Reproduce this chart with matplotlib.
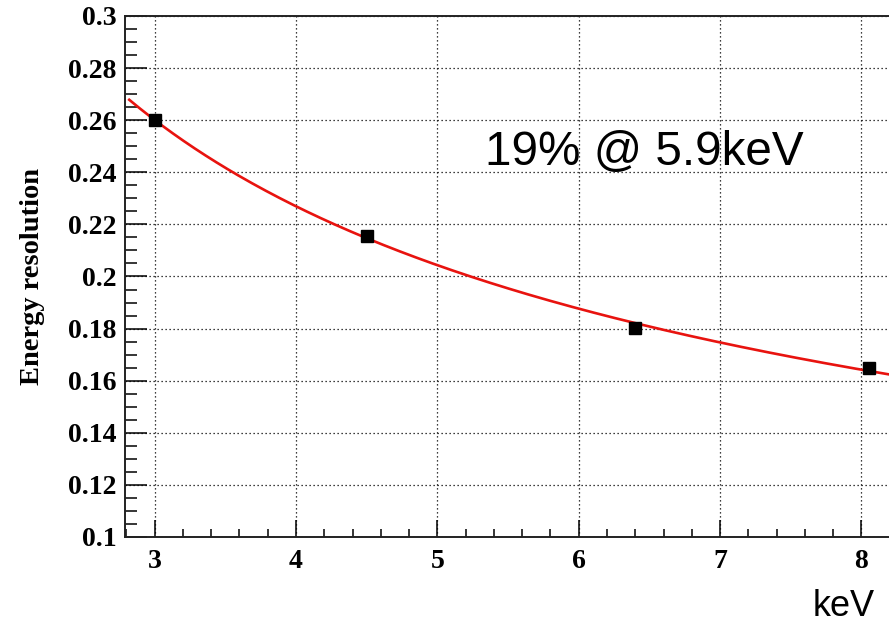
import numpy as np
import matplotlib
matplotlib.use('Agg')
import matplotlib.pyplot as plt
from matplotlib.ticker import MultipleLocator

# measured resolution points
energy_kev = [3.0, 4.5, 6.4, 8.05]
resolution = [0.260, 0.2155, 0.1802, 0.1649]

y_ticks = [0.1, 0.12, 0.14, 0.16, 0.18, 0.2, 0.22, 0.24, 0.26, 0.28, 0.3]
y_tick_labels = ['0.1', '0.12', '0.14', '0.16', '0.18', '0.2', '0.22', '0.24', '0.26', '0.28', '0.3']
x_ticks = [3, 4, 5, 6, 7, 8]

fit_range = (2.82, 8.6)
note = '19% @ 5.9keV'

# fit  sigma(E) = a / sqrt(E) + b
E = np.array(energy_kev)
A = np.vstack([1.0 / np.sqrt(E), np.ones_like(E)]).T
a, b = np.linalg.lstsq(A, np.array(resolution), rcond=None)[0]
xf = np.linspace(fit_range[0], fit_range[1], 300)
yf = a / np.sqrt(xf) + b

fig = plt.figure(figsize=(8.89, 6.22), dpi=100)
ax = fig.add_axes([0.1406, 0.1367, 0.9, 0.8376])

ax.plot(xf, yf, color='#e8130f', lw=1.9, zorder=3)
ax.plot(energy_kev, resolution, 's', color='black', ms=8.5, zorder=4)

ax.set_xlim(2.79, 8.45)
ax.set_ylim(0.1, 0.3)

ax.set_xticks(x_ticks)
ax.set_yticks(y_ticks)
ax.set_yticklabels(y_tick_labels)
ax.xaxis.set_minor_locator(MultipleLocator(0.2))
ax.yaxis.set_minor_locator(MultipleLocator(0.005))

ax.grid(True, which='major', color='black', lw=0.9, ls=(0, (1, 2.2)))
ax.set_axisbelow(True)

for s in ['left', 'bottom', 'top', 'right']:
    ax.spines[s].set_linewidth(1.4)
    ax.spines[s].set_color('#222222')

ax.tick_params(axis='y', which='major', direction='in', length=15.5, width=1.1, pad=6)
ax.tick_params(axis='y', which='minor', direction='in', length=8.5, width=1.1)
ax.tick_params(axis='x', which='major', direction='in', length=12, width=1.1, pad=9)
ax.tick_params(axis='x', which='minor', direction='in', length=6, width=1.1)

for lab in ax.get_xticklabels() + ax.get_yticklabels():
    lab.set_family('Liberation Serif')
    lab.set_weight('bold')
    lab.set_fontsize(20)

fig.text(0.036, 0.556, 'Energy resolution', rotation=90, ha='center', va='center',
         family='Liberation Serif', weight='bold', fontsize=20.5)

fig.text(485 / 889, 1 - 153 / 622, note, ha='left', va='center',
         family='Liberation Sans', fontsize=34.3)
fig.text(813 / 889, 1 - 606 / 622, 'keV', ha='left', va='center',
         family='Liberation Sans', fontsize=26)

fig.savefig('out.png', dpi=100)
plt.close(fig)
